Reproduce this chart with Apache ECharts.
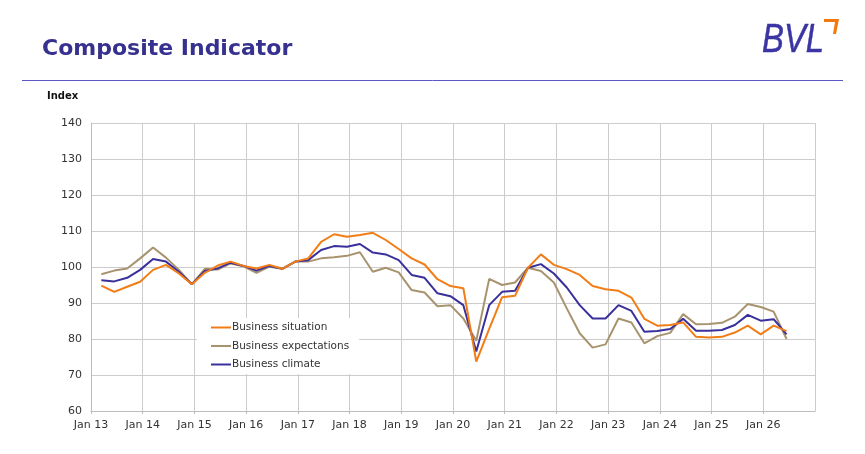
<!DOCTYPE html>
<html>
<head>
<meta charset="utf-8">
<script src="https://cdn.jsdelivr.net/npm/echarts@6/dist/echarts.min.js"></script>
<style>
	html, body { margin: 0; padding: 0; background: #fff; }
	#chart { width: 865px; height: 454px; }
</style>
</head>
<body>
<div id="chart"></div>
<script>
// quarterly readings, Q1 2013 .. Q2 2026
let situation = [
	94.8, 93.1, 94.5, 95.9, 99.2, 100.6, 98.2, 95.2,
	98.4, 100.4, 101.5, 100.3, 99.6, 100.6, 99.5, 101.5,
	102.4, 107.0, 109.1, 108.4, 108.9, 109.5, 107.5, 105.0,
	102.4, 100.7, 96.6, 94.7, 94.1, 73.7, 82.8, 91.6,
	92.0, 99.8, 103.5, 100.6, 99.4, 97.8, 94.7, 93.8,
	93.4, 91.5, 85.6, 83.7, 83.9, 84.6, 80.6, 80.4,
	80.6, 81.8, 83.7, 81.3, 83.7, 82.2
]
let expectations = [
	98.0, 99.0, 99.6, 102.4, 105.4, 102.6, 99.2, 95.2,
	99.5, 99.3, 101.0, 100.2, 98.4, 100.1, 99.5, 101.5,
	101.5, 102.4, 102.7, 103.1, 104.1, 98.7, 99.8, 98.5,
	93.6, 92.9, 89.1, 89.4, 85.7, 79.5, 96.7, 95.0,
	95.7, 99.8, 98.9, 95.7, 88.5, 81.6, 77.6, 78.5,
	85.7, 84.6, 78.8, 80.8, 81.7, 86.9, 84.1, 84.2,
	84.5, 86.2, 89.7, 88.9, 87.6, 80.0
]
let climate = [
	96.3, 96.0, 97.0, 99.2, 102.2, 101.5, 98.7, 95.2,
	98.9, 99.6, 101.2, 100.3, 99.0, 100.3, 99.5, 101.5,
	101.9, 104.7, 105.8, 105.6, 106.4, 104.0, 103.5, 101.9,
	97.8, 97.0, 92.7, 91.9, 89.4, 76.5, 89.4, 93.1,
	93.4, 99.8, 100.8, 98.2, 94.3, 89.4, 85.7, 85.7,
	89.4, 87.8, 82.0, 82.2, 82.8, 85.6, 82.3, 82.3,
	82.5, 83.9, 86.7, 85.1, 85.5, 81.3
]
let seriesNames = ['Business situation', 'Business expectations', 'Business climate']
let seriesColors = ['#f27d16', '#a8936f', '#3a309c']

// quarter positions on a year scale
let quarters = []
for (let y = 2013; quarters.length < situation.length; y++) {
	for (let q = 0; q < 4 && quarters.length < situation.length; q++) {
		quarters.push(y + 0.2 + q * 0.25)
	}
}

function pairs(values) {
	return values.map((v, i) => [quarters[i], v])
}

let font = 'DejaVu Sans'
let chart = echarts.init(document.getElementById('chart'))

let series = [situation, expectations, climate].map((vals, i) => ({
	name: seriesNames[i],
	type: 'line',
	data: pairs(vals),
	symbol: 'none',
	lineStyle: { color: seriesColors[i], width: 2 },
	itemStyle: { color: seriesColors[i] },
	z: i == 0 ? 4 : (i == 1 ? 2 : 3)
}))

chart.setOption({
	animation: false,
	backgroundColor: '#fff',
	grid: { left: 91, right: 50, top: 123, bottom: 43 },
	legend: {
		data: seriesNames,
		orient: 'vertical',
		left: 197,
		top: 318,
		backgroundColor: '#fff',
		padding: [4, 10, 4, 14],
		itemGap: 7.5,
		itemWidth: 20,
		itemHeight: 2,
		icon: 'rect',
		textStyle: { fontFamily: font, fontSize: 10.5, color: '#333', padding: [0, 0, 0, -4] }
	},
	xAxis: {
		type: 'value',
		min: 2013,
		max: 2027,
		interval: 1,
		axisLine: { show: true, lineStyle: { color: '#bdbdbd' } },
		axisTick: { show: true, length: 3, lineStyle: { color: '#bdbdbd' } },
		splitLine: { show: true, lineStyle: { color: '#cccccc' } },
		axisLabel: {
			fontFamily: font, fontSize: 11, color: '#333', margin: 9,
			showMaxLabel: false,
			formatter: v => 'Jan ' + String(v).slice(2)
		}
	},
	yAxis: {
		type: 'value',
		min: 60,
		max: 140,
		interval: 10,
		axisLine: { show: true, lineStyle: { color: '#bdbdbd' } },
		axisTick: { show: false },
		splitLine: { show: true, lineStyle: { color: '#cccccc' } },
		axisLabel: { fontFamily: font, fontSize: 11, color: '#333', margin: 9 }
	},
	graphic: [
		{
			type: 'text', left: 42, top: 38,
			style: { text: 'Composite Indicator', fontFamily: font, fontWeight: 'bold', fontSize: 22, fill: '#36308f' }
		},
		{
			type: 'text', x: 762, y: 20, scaleX: 0.8,
			style: { text: 'BVL', fontFamily: 'Liberation Sans', fontStyle: 'italic', fontSize: 41, fill: '#3b35a3', stroke: '#3b35a3', lineWidth: 0.5 }
		},
		{
			type: 'polygon',
			shape: { points: [[824, 19], [839, 19], [836, 34], [833, 34], [835, 22], [824, 22]] },
			style: { fill: '#f07a10' }
		},
		{
			type: 'line',
			shape: { x1: 22, y1: 80.5, x2: 843, y2: 80.5 },
			style: { stroke: '#5b55c6', lineWidth: 1 }
		},
		{
			type: 'text', left: 47, top: 91,
			style: { text: 'Index', fontFamily: font, fontWeight: 'bold', fontSize: 10, fill: '#111' }
		}
	],
	series: series
})
</script>
</body>
</html>
